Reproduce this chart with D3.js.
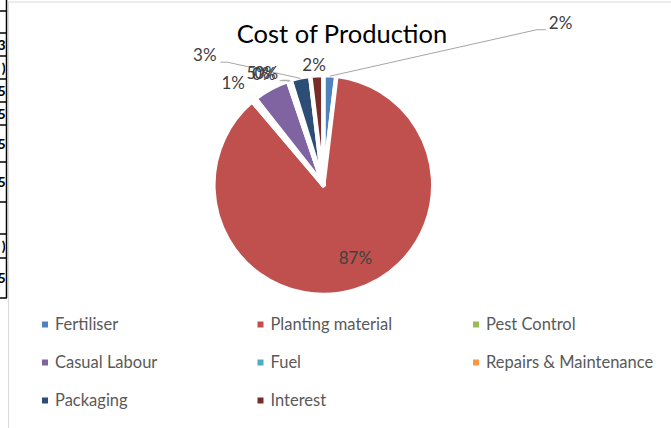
<!DOCTYPE html>
<html>
<head>
<meta charset="utf-8">
<script src="https://cdn.jsdelivr.net/npm/d3@7"></script>
<style>
  html, body { margin: 0; padding: 0; background: #fff; }
  svg { display: block; font-family: Lato, "Noto Sans", sans-serif; }
</style>
</head>
<body>
<script>
// * DATA
const categories = ["Fertiliser", "Planting material", "Pest Control", "Casual Labour",
  "Fuel", "Repairs & Maintenance", "Packaging", "Interest"];
const costShare = [1.9, 86.9, 0.6, 5.4, 0.2, 0.2, 2.9, 1.9];
const sliceColors = ["#4F81BD", "#C0504D", "#9BBB59", "#8064A2",
  "#4BACC6", "#F79646", "#2C4D75", "#772C2A"];
const title = "Cost of Production";

// label nudges (Excel moved some labels to avoid overlap)
const labelNudge = [[230, -41], [9, -4], [-13, -8], [-7, -5], [-21, 4], [-20, 4], [-93, -11], [-2, 1]];
const leaderSide = ["right", null, null, null, "left", "left", "left", null];

// spreadsheet row lines peeking out at the left
const sheetRows = [11, 33, 56, 79, 102, 125, 162, 202, 234, 258, 298];
const sheetGlyphs = ["", "3", ")", "5", "5", "5", "5", "", ")", "5"];

// * SETUP
const width = 671, height = 428;
const cx = 323.3, cy = 185, radius = 110;

const svg = d3.select("body").append("svg")
  .attr("width", width)
  .attr("height", height)
  .attr("viewBox", [0, 0, width, height]);

// sheet remnants
const sheet = svg.append("g");
sheet.append("line")
  .attr("x1", 6.5).attr("x2", 6.5).attr("y1", 0).attr("y2", sheetRows[sheetRows.length - 1])
  .attr("stroke", "#000").attr("stroke-width", 1.5);
sheet.selectAll("line.row").data(sheetRows).join("line")
  .attr("class", "row")
  .attr("x1", 0).attr("x2", 7).attr("y1", d => d).attr("y2", d => d)
  .attr("stroke", "#000").attr("stroke-width", 1.5);
svg.append("clipPath").attr("id", "sheetclip")
  .append("rect").attr("x", 0).attr("y", 0).attr("width", 5.5).attr("height", height);
sheet.append("g").attr("clip-path", "url(#sheetclip)")
  .selectAll("text").data(sheetGlyphs).join("text")
  .attr("x", 5.5)
  .attr("y", (d, i) => (sheetRows[i] + sheetRows[i + 1]) / 2 + 5)
  .attr("text-anchor", "end")
  .attr("font-size", 14)
  .attr("font-weight", "bold")
  .attr("fill", "#000")
  .text(d => d);

// chart area border
svg.append("rect")
  .attr("x", 8.5).attr("y", 2)
  .attr("width", width).attr("height", height)
  .attr("fill", "none")
  .attr("stroke", "#d9d9d9");

// title
svg.append("text")
  .attr("x", 342)
  .attr("y", 43)
  .attr("text-anchor", "middle")
  .attr("font-size", 25.5)
  .attr("fill", "#000")
  .text(title);

// * PIE
const data = categories.map((c, i) => ({ name: c, value: costShare[i], color: sliceColors[i], i }));
const total = d3.sum(costShare);
const pie = d3.pie().sort(null).value(d => d.value);
const arcs = pie(data);
const arc = d3.arc().innerRadius(0).outerRadius(radius);
const pct = d => `${Math.round(d.data.value / total * 100)}%`;

const g = svg.append("g").attr("transform", `translate(${cx},${cy})`);

g.selectAll("path.slice").data(arcs).join("path")
  .attr("class", "slice")
  .attr("d", arc)
  .attr("fill", d => d.data.color)
  .attr("stroke", "#fff")
  .attr("stroke-width", 4.5)
  .attr("stroke-linejoin", "round");

// data labels
const outerLabelArc = d3.arc().innerRadius(radius + 12).outerRadius(radius + 12);
const innerLabelArc = d3.arc().innerRadius(80).outerRadius(80);

const labels = g.selectAll("text.lbl").data(arcs).join("text")
  .attr("class", "lbl")
  .attr("text-anchor", "middle")
  .attr("dominant-baseline", "central")
  .attr("font-size", 17)
  .attr("fill", "#404040")
  .attr("transform", d => {
    const big = d.endAngle - d.startAngle > Math.PI;
    const [x, y] = (big ? innerLabelArc : outerLabelArc).centroid(d);
    const [dx, dy] = labelNudge[d.index];
    return `translate(${x + dx},${y + dy})`;
  })
  .text(pct);

// leader lines
const edgeArc = d3.arc().innerRadius(radius - 1).outerRadius(radius - 1);
labels.each(function (d) {
  const side = leaderSide[d.index];
  if (!side) return;
  const box = this.getBBox();
  const t = d3.select(this).attr("transform").match(/translate\(([^,]+),([^)]+)\)/);
  const tx = +t[1], ty = +t[2];
  const bottom = ty + box.y + box.height - 3;
  const [ax, ay] = edgeArc.centroid(d);
  let pts;
  if (side === "right") {
    const left = tx + box.x;
    pts = [[ax, ay], [left - 12, bottom], [left - 3, bottom]];
  } else {
    const right = tx + box.x + box.width;
    pts = [[ax, ay], [right + 11, bottom], [right + 4, bottom]];
  }
  g.insert("path", "text.lbl")
    .attr("d", d3.line()(pts))
    .attr("fill", "none")
    .attr("stroke", "#a6a6a6")
    .attr("stroke-width", 1);
});

// * LEGEND
const legend = svg.append("g");
const colX = d3.scaleLinear().domain([0, 1]).range([42, 257.5]);
const rowY = d3.scaleLinear().domain([0, 1]).range([324.5, 362.5]);

const item = legend.selectAll("g").data(data).join("g")
  .attr("transform", d => `translate(${colX(d.i % 3)},${rowY(Math.floor(d.i / 3))})`);
item.append("rect")
  .attr("x", 0).attr("y", -3)
  .attr("width", 6).attr("height", 6)
  .attr("fill", d => d.color);
item.append("text")
  .attr("x", 13)
  .attr("dy", "0.35em")
  .attr("font-size", 16.5)
  .attr("fill", "#595959")
  .text(d => d.name);
</script>
</body>
</html>
